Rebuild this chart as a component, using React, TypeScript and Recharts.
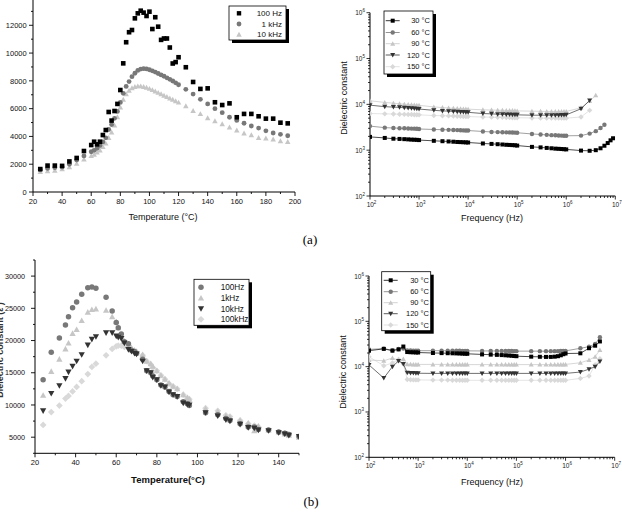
import React from 'react';
import { Scatter, ScatterChart, XAxis, YAxis } from 'recharts';

const FONT = '"Liberation Sans", Arial, sans-serif';
const BLACK = '#000000';
const MID = '#787878';
const DARK = '#333333';
const LIGHT = '#c6c6c6';
const PALE = '#d9d9d9';

// (a) left: permittivity vs temperature
const tempsA = [
	25, 30, 35, 40, 45, 50, 55, 60, 62, 64, 66, 68, 70, 72, 74, 76, 78, 80, 82, 84, 86, 88, 90, 92, 94, 96, 98,
	100, 102, 104, 106, 108, 110, 112, 114, 116, 118, 120, 125, 130, 135, 140, 145, 150, 155, 160, 165, 170, 175,
	180, 185, 190, 195,
];
const epsA100Hz = [
	1650, 1900, 1900, 1880, 2200, 2450, 2950, 3380, 3620, 3430, 3620, 4100, 4460, 5760, 5140, 5830, 6340, 7340,
	9260, 10780, 11500, 11660, 12500, 12860, 13050, 12910, 12670, 12980, 11730, 12580, 11900, 10950, 11050, 11050,
	10400, 9250, 9350, 9700, 8980, 7920, 7420, 7460, 6460, 6260, 6380, 5380, 5620, 5620, 5450, 5280, 5280, 4990,
	4940,
];
const epsA1kHz = [
	1600, 1700, 1750, 1800, 2000, 2300, 2600, 2900, 3000, 3150, 3350, 3600, 3900, 4500, 4850, 5300, 5800, 6450,
	7100, 7600, 7950, 8300, 8550, 8750, 8850, 8880, 8860, 8800, 8720, 8630, 8530, 8430, 8330, 8220, 8110, 7990,
	7860, 7720, 7390, 7050, 6670, 6340, 6000, 5710, 5380, 5150, 4950, 4750, 4600, 4400, 4250, 4150, 4050,
];
const epsA10kHz = [
	1450, 1500, 1550, 1650, 1800, 2050, 2350, 2600, 2700, 2850, 3000, 3250, 3500, 3900, 4300, 4800, 5400, 6100,
	6650, 7050, 7300, 7480, 7580, 7620, 7620, 7580, 7520, 7440, 7350, 7250, 7150, 7050, 6950, 6850, 6750, 6650,
	6550, 6450, 6190, 5850, 5620, 5330, 5110, 4900, 4660, 4440, 4220, 4100, 3910, 3860, 3790, 3670, 3620,
];
const tempTicksA = [20, 30, 40, 50, 60, 70, 80, 90, 100, 110, 120, 130, 140, 150, 160, 170, 180, 190, 200];
const epsTicksA = [0, 1000, 2000, 3000, 4000, 5000, 6000, 7000, 8000, 9000, 10000, 11000, 12000, 13000, 14000];

// (a) right: permittivity vs frequency
const freqMain = [
	100, 200, 300, 400, 500, 600, 700, 800, 900, 1e3, 2e3, 3e3, 4e3, 5e3, 6e3, 7e3, 8e3, 9e3, 1e4, 2e4, 3e4, 4e4,
	5e4, 6e4, 7e4, 8e4, 9e4, 1e5, 2e5, 3e5, 4e5, 5e5, 6e5, 7e5, 8e5, 9e5, 1e6,
];
const fa30 = [2e6, 3e6, 4e6, 5e6, 6e6, 7e6, 8e6, 9e6];
const a30 = [
	1950, 1850, 1780, 1760, 1740, 1720, 1700, 1690, 1680, 1660, 1600, 1570, 1550, 1530, 1510, 1500, 1490, 1480,
	1470, 1400, 1370, 1350, 1330, 1310, 1300, 1290, 1280, 1260, 1180, 1150, 1120, 1100, 1080, 1070, 1060, 1050,
	1040, 980, 970, 1000, 1100, 1250, 1430, 1640, 1820,
];
const fa60 = [2e6, 3e6, 4e6, 5e6, 6e6];
const a60 = [
	3350, 3100, 3050, 3020, 3000, 2980, 2960, 2950, 2930, 2900, 2830, 2800, 2780, 2760, 2740, 2720, 2700, 2690,
	2680, 2560, 2500, 2480, 2460, 2450, 2440, 2430, 2420, 2400, 2260, 2200, 2160, 2130, 2110, 2090, 2080, 2070,
	2060, 2080, 2300, 2600, 3050, 3600,
];
const fa90 = [2e6, 3e6, 4e6];
const a90 = [
	12000, 11000, 10600, 10300, 10100, 9900, 9800, 9700, 9600, 9500, 8800, 8500, 8300, 8200, 8100, 8000, 7950,
	7900, 7850, 7600, 7500, 7450, 7400, 7350, 7300, 7300, 7250, 7200, 7100, 7050, 7000, 7000, 7000, 6950, 6950,
	6950, 7000, 8400, 11800, 15700,
];
const fa120 = [2e6, 3e6];
const a120 = [
	9600, 8900, 8700, 8600, 8400, 8300, 8200, 8100, 8000, 7900, 7400, 7200, 7100, 7000, 6900, 6850, 6800, 6750,
	6700, 6300, 6200, 6100, 6050, 6000, 6000, 5950, 5950, 5900, 5800, 5800, 5800, 5800, 5800, 5800, 5850, 5850,
	5900, 8000, 12200,
];
const fa150 = [2e6, 3e6];
const a150 = [
	6300, 6200, 6150, 6100, 6050, 6000, 6000, 5950, 5950, 5900, 5700, 5650, 5600, 5550, 5500, 5500, 5450, 5450,
	5400, 5300, 5250, 5200, 5200, 5150, 5150, 5100, 5100, 5100, 5050, 5000, 5000, 5000, 5000, 5000, 5000, 5000,
	5000, 5300, 7400,
];

// (b) left
const tempsB = [
	24, 28, 32, 35, 36.5, 38.5, 40.5, 43, 46, 48, 50, 55, 58, 60, 61, 62.5, 64, 66, 67.5, 69, 70, 73, 75, 77, 78,
	80, 82, 84, 86, 88, 90, 93, 95, 96, 104, 110, 114, 116, 121, 125, 128, 130, 135, 140, 143, 145, 150,
];
const epsB100Hz = [
	13900, 18200, 20400, 22400, 23700, 25100, 26000, 27200, 28200, 28300, 28100, 26700, 24600, 22800, 22000, 21000,
	19800, 19500, 18500, 18300, 18000, 17100, 15300, 15000, 14500, 13900, 13100, 12800, 12100, 11600, 11300, 10500,
	10200, 9900, 8800, 8500, 7900, 7600, 7100, 6600, 6600, 6200, 6100, 5800, 5600, 5400, 5100,
];
const epsB1kHz = [
	11500, 15200, 17100, 18700, 19600, 21100, 21700, 23100, 24400, 24800, 24900, 24700, 23700, 22900, 22000, 20600,
	19900, 19300, 18900, 18500, 18300, 17800, 16800, 16400, 16000, 15300, 14600, 14000, 13400, 12900, 12500, 11600,
	11100, 10900, 9400, 9000, 8300, 8100, 7600, 7200, 6000, 6700, 6100, 5800, 5500, 5300, 5000,
];
const epsB10kHz = [
	9100, 11800, 13000, 14100, 15100, 16000, 16800, 17800, 19300, 20200, 20600, 21200, 21200, 20700, 20500, 20300,
	19600, 18600, 18300, 18000, 17900, 16800, 15300, 15000, 14300, 13900, 13000, 12800, 12000, 11600, 11300, 10300,
	10100, 10000, 8800, 8300, 7700, 7500, 7000, 6500, 6400, 6100, 6000, 5700, 5500, 5300, 5100,
];
const epsB100kHz = [
	6900, 8900, 9900, 11000, 11400, 12100, 12800, 13700, 14800, 15900, 16400, 17700, 18700, 19100, 19200, 19200,
	19000, 18800, 18500, 18300, 18200, 17700, 16800, 16300, 15800, 15300, 14600, 14000, 13300, 12900, 12500, 11600,
	11100, 10900, 9500, 9100, 8400, 8200, 7600, 7100, 6800, 6600, 6100, 5800, 5600, 5400, 5100,
];
const tempTicksB = [20, 30, 40, 50, 60, 70, 80, 90, 100, 110, 120, 130, 140, 150];
const epsTicksB = [2500, 5000, 7500, 10000, 12500, 15000, 17500, 20000, 22500, 25000, 27500, 30000, 32500];

// (b) right
const fbTail = [2e6, 3e6, 4e6, 5e6];
const b30 = [
	22500, 24700, 22500, 24000, 27800, 21000, 20800, 20700, 20600, 20500, 20000, 19900, 19800, 19700, 19600, 19500,
	19400, 19300, 19200, 18600, 18400, 18200, 18000, 17800, 17600, 17400, 17200, 17000, 16600, 16500, 16400, 16400,
	16600, 17000, 17800, 18800, 19500, 19700, 25500, 29000, 36000,
];
const b60 = [
	24000, 25000, 23000, 24500, 25000, 22800, 22700, 22600, 22600, 22500, 22500, 22500, 22400, 22400, 22400, 22400,
	22300, 22300, 22300, 22200, 22200, 22200, 22100, 22100, 22100, 22100, 22000, 22000, 22000, 22000, 22000, 22000,
	22000, 22000, 22100, 22200, 22300, 25400, 27600, 31600, 44400,
];
const b90 = [
	14000, 13500, 15500, 13800, 14800, 11300, 11300, 11200, 11200, 11200, 11200, 11200, 11200, 11100, 11100, 11100,
	11100, 11100, 11100, 11100, 11100, 11100, 11100, 11100, 11100, 11100, 11100, 11100, 11100, 11100, 11100, 11100,
	11100, 11100, 11100, 11100, 11200, 12200, 14000, 16600, 23400,
];
const b120 = [
	10900, 5600, 10000, 13400, 11500, 7300, 7200, 7200, 7150, 7150, 7100, 7100, 7100, 7100, 7100, 7100, 7100, 7100,
	7100, 7100, 7100, 7100, 7100, 7100, 7100, 7100, 7100, 7100, 7100, 7100, 7100, 7100, 7100, 7100, 7100, 7100,
	7100, 7600, 8800, 10000, 13000,
];
const b150 = [
	16500, 10500, 12000, 14500, 11500, 5200, 5150, 5100, 5100, 5100, 5050, 5050, 5050, 5000, 5000, 5000, 5000, 5000,
	5000, 5000, 5000, 5000, 5000, 5000, 5000, 5000, 5000, 5000, 5000, 5000, 5000, 5000, 5000, 5000, 5000, 5000,
	5000, 5500, 6200, 11000, 15000,
];

const freqDecades = [1e2, 1e3, 1e4, 1e5, 1e6, 1e7];
const epsDecades = [1e2, 1e3, 1e4, 1e5, 1e6];
const minorSteps = [2, 3, 4, 5, 6, 7, 8, 9];

const withMinor = (decs: number[]) =>
	decs.flatMap((d, i) => (i < decs.length - 1 ? [d, ...minorSteps.map((m) => d * m)] : [d]));
const pts = (xs: number[], ys: number[]) => xs.map((x, i) => ({ x, y: ys[i] }));

type Kind = 'square' | 'circle' | 'triangle' | 'down' | 'diamond';

function Marker({ kind, cx, cy, r, fill }: { kind: Kind; cx: number; cy: number; r: number; fill: string }) {
	if (cx == null || cy == null) return null;
	if (kind === 'square') return <rect x={cx - r} y={cy - r} width={2 * r} height={2 * r} fill={fill} />;
	if (kind === 'circle') return <circle cx={cx} cy={cy} r={r * 1.1} fill={fill} />;
	if (kind === 'diamond') {
		const h = r * 1.35;
		return <polygon points={`${cx},${cy - h} ${cx + h},${cy} ${cx},${cy + h} ${cx - h},${cy}`} fill={fill} />;
	}
	const h = r * 1.25;
	const s = kind === 'down' ? -1 : 1;
	return (
		<polygon
			points={`${cx},${cy - s * h} ${cx + h},${cy + s * h * 0.8} ${cx - h},${cy + s * h * 0.8}`}
			fill={fill}
		/>
	);
}

const shapeOf = (kind: Kind, fill: string, r: number) => (p: any) => (
	<Marker kind={kind} cx={p.cx} cy={p.cy} r={r} fill={fill} />
);

function linTick(side: 'x' | 'y', majorEvery: number, fs: number, gap: number) {
	return (p: any) => {
		const v = p.payload.value;
		const major = Math.abs(v % majorEvery) < 1e-6;
		const len = major ? 4 : 2;
		if (side === 'x') {
			return (
				<g>
					<line x1={p.x} y1={p.y} x2={p.x} y2={p.y + len} stroke="#000" strokeWidth={0.9} />
					{major && (
						<text x={p.x} y={p.y + len + gap + fs * 0.75} textAnchor="middle" fontSize={fs} fontFamily={FONT} fill="#111">
							{v}
						</text>
					)}
				</g>
			);
		}
		return (
			<g>
				<line x1={p.x} y1={p.y} x2={p.x - len} y2={p.y} stroke="#000" strokeWidth={0.9} />
				{major && (
					<text x={p.x - len - gap} y={p.y + fs * 0.36} textAnchor="end" fontSize={fs} fontFamily={FONT} fill="#111">
						{v}
					</text>
				)}
			</g>
		);
	};
}

function logTick(side: 'x' | 'y') {
	return (p: any) => {
		const v = p.payload.value;
		const e = Math.log10(v);
		const major = Math.abs(e - Math.round(e)) < 1e-9;
		const len = major ? 3.5 : 2;
		const label = major ? (
			<>
				10<tspan dy={-3} fontSize={4.5}>{Math.round(e)}</tspan>
			</>
		) : null;
		if (side === 'x') {
			return (
				<g>
					<line x1={p.x} y1={p.y} x2={p.x} y2={p.y + len} stroke="#000" strokeWidth={0.8} />
					{major && (
						<text x={p.x + 1.5} y={p.y + 11} textAnchor="middle" fontSize={6.5} fontFamily={FONT} fill="#222">
							{label}
						</text>
					)}
				</g>
			);
		}
		return (
			<g>
				<line x1={p.x} y1={p.y} x2={p.x - len} y2={p.y} stroke="#000" strokeWidth={0.8} />
				{major && (
					<text x={p.x - 5} y={p.y + 2.5} textAnchor="end" fontSize={6.5} fontFamily={FONT} fill="#222">
						{label}
					</text>
				)}
			</g>
		);
	};
}

type Row = { label: string; kind: Kind; color: string };

function LegendBox(props: {
	x: number; y: number; w: number; h: number; rows: Row[]; rowY: number[];
	markX: number; textX: number; anchor: 'start' | 'end'; line?: boolean; r: number; fs: number;
}) {
	const { x, y, w, h, rows, rowY, markX, textX, anchor, line, r, fs } = props;
	return (
		<g>
			<rect x={x + 3} y={y + 3} width={w} height={h} fill="#000" />
			<rect x={x} y={y} width={w} height={h} fill="#fff" stroke="#000" strokeWidth={0.8} />
			{rows.map((row, i) => (
				<g key={row.label}>
					{line && <line x1={markX - 7} x2={markX + 7} y1={rowY[i]} y2={rowY[i]} stroke={row.color} strokeWidth={0.8} />}
					<Marker kind={row.kind} cx={markX} cy={rowY[i]} r={r} fill={row.color} />
					<text x={textX} y={rowY[i] + fs * 0.36} textAnchor={anchor} fontSize={fs} fontFamily={FONT} fill="#111">
						{row.label}
					</text>
				</g>
			))}
		</g>
	);
}

const axisLine = { stroke: '#000', strokeWidth: 1 };

function TempChartA() {
	return (
		<ScatterChart width={310} height={230} margin={{ top: 7.5, right: 15, bottom: 8, left: 0 }}>
			<XAxis type="number" dataKey="x" domain={[20, 200]} ticks={tempTicksA} interval={0} tickSize={0} tickMargin={0}
				axisLine={axisLine} tickLine={false} tick={linTick('x', 20, 7.5, 2)} height={20} allowDataOverflow />
			<YAxis type="number" dataKey="y" domain={[0, 14000]} ticks={epsTicksA} interval={0} tickSize={0} tickMargin={0}
				axisLine={axisLine} tickLine={false} tick={linTick('y', 2000, 7.5, 2.3)} width={33} allowDataOverflow />
			<Scatter data={pts(tempsA, epsA10kHz)} shape={shapeOf('triangle', LIGHT, 2.2)} isAnimationActive={false} />
			<Scatter data={pts(tempsA, epsA1kHz)} shape={shapeOf('circle', MID, 2.2)} isAnimationActive={false} />
			<Scatter data={pts(tempsA, epsA100Hz)} shape={shapeOf('square', BLACK, 2.3)} isAnimationActive={false} />
		</ScatterChart>
	);
}

function FreqChart(props: {
	series: { x: number[]; y: number[]; kind: Kind; color: string }[];
	height: number; top: number; bottom: number; right: number; yWidth: number; r: number;
}) {
	const { series, height, top, bottom, right, yWidth, r } = props;
	return (
		<ScatterChart width={302} height={height} margin={{ top, right, bottom, left: 0 }}>
			<XAxis type="number" dataKey="x" scale="log" domain={[1e2, 1e7]} ticks={withMinor(freqDecades)} interval={0}
				tickSize={0} tickMargin={0} axisLine={axisLine} tickLine={false} tick={logTick('x')} height={20} allowDataOverflow />
			<YAxis type="number" dataKey="y" scale="log" domain={[1e2, 1e6]} ticks={withMinor(epsDecades)} interval={0}
				tickSize={0} tickMargin={0} axisLine={axisLine} tickLine={false} tick={logTick('y')} width={yWidth} allowDataOverflow />
			{series.map((s, i) => (
				<Scatter key={i} data={pts(s.x, s.y)} shape={shapeOf(s.kind, s.color, r)} line={{ stroke: s.color, strokeWidth: 0.7 }}
					lineType="joint" isAnimationActive={false} />
			))}
		</ScatterChart>
	);
}

function TempChartB() {
	return (
		<ScatterChart width={310} height={240} margin={{ top: 10, right: 11, bottom: 16.7, left: 0 }}>
			<XAxis type="number" dataKey="x" domain={[20, 150]} ticks={tempTicksB} interval={0} tickSize={0} tickMargin={0}
				axisLine={axisLine} tickLine={false} tick={linTick('x', 20, 7.5, 2)} height={20} allowDataOverflow />
			<YAxis type="number" dataKey="y" domain={[2500, 32500]} ticks={epsTicksB} interval={0} tickSize={0} tickMargin={0}
				axisLine={axisLine} tickLine={false} tick={linTick('y', 5000, 7.2, 6)} width={35} allowDataOverflow />
			<Scatter data={pts(tempsB, epsB100kHz)} shape={shapeOf('diamond', PALE, 2.5)} isAnimationActive={false} />
			<Scatter data={pts(tempsB, epsB1kHz)} shape={shapeOf('triangle', LIGHT, 2.5)} isAnimationActive={false} />
			<Scatter data={pts(tempsB, epsB100Hz)} shape={shapeOf('circle', MID, 2.5)} isAnimationActive={false} />
			<Scatter data={pts(tempsB, epsB10kHz)} shape={shapeOf('down', DARK, 2.5)} isAnimationActive={false} />
		</ScatterChart>
	);
}

const tempRows: Row[] = [
	{ label: '30 °C', kind: 'square', color: BLACK },
	{ label: '60 °C', kind: 'circle', color: MID },
	{ label: '90 °C', kind: 'triangle', color: LIGHT },
	{ label: '120 °C', kind: 'down', color: DARK },
	{ label: '150 °C', kind: 'diamond', color: PALE },
];

export default function App() {
	const seriesA = [
		{ x: [...freqMain, ...fa150], y: a150, kind: 'diamond' as Kind, color: PALE },
		{ x: [...freqMain, ...fa90], y: a90, kind: 'triangle' as Kind, color: LIGHT },
		{ x: [...freqMain, ...fa120], y: a120, kind: 'down' as Kind, color: DARK },
		{ x: [...freqMain, ...fa60], y: a60, kind: 'circle' as Kind, color: MID },
		{ x: [...freqMain, ...fa30], y: a30, kind: 'square' as Kind, color: BLACK },
	];
	const seriesB = [
		{ x: [...freqMain, ...fbTail], y: b150, kind: 'diamond' as Kind, color: PALE },
		{ x: [...freqMain, ...fbTail], y: b90, kind: 'triangle' as Kind, color: LIGHT },
		{ x: [...freqMain, ...fbTail], y: b120, kind: 'down' as Kind, color: DARK },
		{ x: [...freqMain, ...fbTail], y: b60, kind: 'circle' as Kind, color: MID },
		{ x: [...freqMain, ...fbTail], y: b30, kind: 'square' as Kind, color: BLACK },
	];
	const box = (left: number, top: number): React.CSSProperties => ({ position: 'absolute', left, top });
	return (
		<div style={{ position: 'absolute', left: 0, top: 0, width: 622, height: 512, overflow: 'hidden', background: '#fff', fontFamily: FONT }}>
			<div style={box(0, -10)}>
				<TempChartA />
			</div>
			<div style={box(320, 0)}>
				<FreqChart series={seriesA} height={230} top={12.7} bottom={14} right={6.7} yWidth={50} r={2} />
			</div>
			<div style={box(0, 250)}>
				<TempChartB />
			</div>
			<div style={box(320, 250)}>
				<FreqChart series={seriesB} height={240} top={26} bottom={12.7} right={7.3} yWidth={49} r={2} />
			</div>
			<svg width={622} height={512} style={{ position: 'absolute', left: 0, top: 0, pointerEvents: 'none' }}>
				<LegendBox x={229} y={6} w={57} h={34} r={2.2} fs={8} markX={239} textX={282} anchor="end"
					rowY={[13.3, 24, 34.5]}
					rows={[
						{ label: '100 Hz', kind: 'square', color: BLACK },
						{ label: '1 kHz', kind: 'circle', color: MID },
						{ label: '10 kHz', kind: 'triangle', color: LIGHT },
					]} />
				<LegendBox x={384} y={11} w={49} h={63} r={2} fs={7.5} markX={392.7} textX={430} anchor="end" line
					rowY={[20.7, 32.5, 43.7, 55, 66.7]} rows={tempRows} />
				<LegendBox x={194} y={279.3} w={55} h={46} r={2.5} fs={8.2} markX={201} textX={220.7} anchor="start"
					rowY={[287.3, 298, 308.7, 319.3]}
					rows={[
						{ label: '100Hz', kind: 'circle', color: MID },
						{ label: '1kHz', kind: 'triangle', color: LIGHT },
						{ label: '10kHz', kind: 'down', color: DARK },
						{ label: '100kHz', kind: 'diamond', color: PALE },
					]} />
				<LegendBox x={381.7} y={271.7} w={49} h={59} r={2} fs={7.5} markX={390.7} textX={429} anchor="end" line
					rowY={[280.3, 291.7, 302.7, 313.7, 325]} rows={tempRows} />

				<text x={163} y={220} textAnchor="middle" fontSize={9} fontFamily={FONT} fill="#111">Temperature (°C)</text>
				<text x={492} y={221} textAnchor="middle" fontSize={9} fontFamily={FONT} fill="#111">Frequency (Hz)</text>
				<text transform="translate(347,98) rotate(-90)" textAnchor="middle" fontSize={9} fontFamily={FONT} fill="#111">Dielectric constant</text>
				<text x={310} y={244} textAnchor="middle" fontSize={13} fontFamily='"Liberation Serif", serif' fill="#000">(a)</text>

				<text x={168} y={483} textAnchor="middle" fontSize={9.5} fontWeight="bold" fontFamily={FONT} fill="#111">Temperature(°C)</text>
				<text transform="translate(2.5,350) rotate(-90)" textAnchor="middle" fontSize={9} fontWeight="bold" fontFamily={FONT} fill="#333">Dielectric constant (ε')</text>
				<text x={492} y={485} textAnchor="middle" fontSize={9} fontFamily={FONT} fill="#111">Frequency (Hz)</text>
				<text transform="translate(346,372) rotate(-90)" textAnchor="middle" fontSize={9} fontFamily={FONT} fill="#111">Dielectric constant</text>
				<text x={311} y={506} textAnchor="middle" fontSize={13} fontFamily='"Liberation Serif", serif' fill="#000">(b)</text>
			</svg>
		</div>
	);
}
